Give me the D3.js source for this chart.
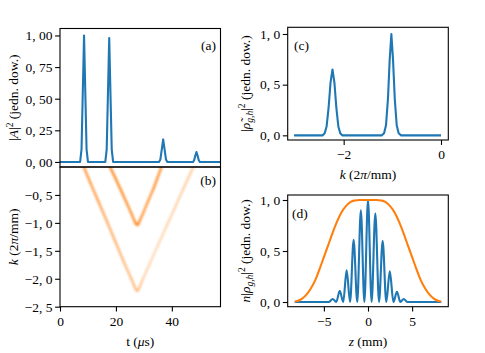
<!DOCTYPE html>
<html><head><meta charset="utf-8">
<script src="https://cdn.jsdelivr.net/npm/d3@7"></script>
<style>
body{margin:0;background:#fff;}
text{font-family:"Liberation Serif","DejaVu Serif",serif;fill:#000;}
</style></head>
<body><svg id="c" width="485" height="353"></svg>
<script>
// ---------- data ----------
// (a) |A|^2 vs t (us)
const aT = [0, 7.2, 7.7, 8.1, 8.6, 9.1, 9.5, 10.0, 16.2, 16.7, 17.1, 17.6, 18.1, 18.5, 19.0,
            35.4, 35.9, 36.4, 36.9, 37.4, 37.9, 38.4, 47.6, 48.0, 48.4, 48.8, 49.2, 49.6, 50.0, 57.4];
const aV = [0, 0, 0.1, 0.5, 1.0, 0.5, 0.1, 0, 0, 0.1, 0.49, 0.98, 0.49, 0.1, 0,
            0, 0.02, 0.1, 0.178, 0.1, 0.02, 0, 0, 0.015, 0.05, 0.078, 0.05, 0.015, 0, 0];
// (b) two bands k(t) with intensity
const upperT = [17.9, 20, 22, 24, 25.5, 26.5, 27.1, 27.6, 28.1, 28.7, 29.7, 31.5, 33.5, 36.3];
const upperK = [0, -0.22, -0.44, -0.66, -0.83, -0.95, -1.01, -1.04, -1.01, -0.94, -0.83, -0.61, -0.38, 0];
const upperI = [0.95, 0.92, 0.9, 0.88, 0.86, 0.88, 0.92, 0.92, 0.9, 0.84, 0.8, 0.8, 0.82, 0.85];
const lowerT = [8.5, 11, 14, 17, 20, 23, 25.5, 26.5, 27.1, 27.6, 28.1, 28.7, 29.7, 32, 35, 38, 41, 44, 47.7];
const lowerK = [0, -0.3, -0.65, -1.0, -1.36, -1.72, -2.0, -2.12, -2.19, -2.22, -2.19, -2.12, -2.0, -1.74, -1.4, -1.07, -0.74, -0.4, 0];
const lowerI = [0.82, 0.78, 0.72, 0.66, 0.6, 0.55, 0.52, 0.52, 0.55, 0.55, 0.52, 0.45, 0.36, 0.3, 0.3, 0.33, 0.36, 0.38, 0.4];
// (c) |rho~|^2 vs k
const cK = [-3.02, -2.43, -2.39, -2.35, -2.31, -2.27, -2.23, -2.19, -2.15, -2.11, -2.07, -2.03,
            -1.22, -1.17, -1.13, -1.09, -1.055, -1.02, -0.985, -0.95, -0.91, -0.87, -0.82, 0];
const cV = [0, 0, 0.02, 0.09, 0.27, 0.52, 0.65, 0.52, 0.27, 0.09, 0.02, 0,
            0, 0.02, 0.1, 0.36, 0.74, 1.0, 0.74, 0.36, 0.1, 0.02, 0, 0];
// (d) blue: n|rho|^2 vs z, orange: n profile
const dZ = [-8.3, -4.45, -4.0, -3.6, -3.2, -2.81, -2.42, -2.03, -1.63, -1.22, -0.81, -0.41, 0,
            0.41, 0.83, 1.25, 1.66, 2.07, 2.47, 2.88, 3.28, 3.67, 4.05, 4.45, 8.3];
const dV = [0, 0, 0.03, 0, 0.11, 0, 0.31, 0, 0.61, 0, 0.9, 0, 1.0,
            0, 0.87, 0, 0.6, 0, 0.3, 0, 0.1, 0, 0.03, 0, 0];
const nZ = [-8.3, -7.7, -7.0, -6.5, -6.0, -5.5, -5.0, -4.5, -4.0, -3.5, -3.0, -2.5, -2.0, -1.5, -1.0, 0,
            1.0, 1.5, 2.0, 2.5, 3.0, 3.5, 4.0, 4.5, 5.0, 5.5, 6.0, 6.5, 7.0, 7.7, 8.3];
const nV = [0.005, 0.02, 0.07, 0.13, 0.21, 0.32, 0.44, 0.56, 0.68, 0.79, 0.88, 0.94, 0.98, 0.995, 1.0, 1.0,
            1.0, 0.995, 0.98, 0.94, 0.88, 0.79, 0.68, 0.56, 0.44, 0.32, 0.21, 0.13, 0.07, 0.02, 0.005];
// ticks
const aYTicks = [0, 0.25, 0.5, 0.75, 1.0];
const bYTicks = [-0.5, -1.0, -1.5, -2.0, -2.5];
const tTicks = [0, 20, 40];
const cYTicks = [0, 0.5, 1.0];
const cXTicks = [-2, 0];
const dYTicks = [0, 0.5, 1.0];
const dXTicks = [-5, 0, 5];

// ---------- drawing ----------
const BLUE = "#1f77b4", ORANGE = "#ff7f0e", FS = 13.5;
const svg = d3.select("#c");
svg.append("rect").attr("width", 485).attr("height", 353).attr("fill", "#fff");
const defs = svg.append("defs");
defs.append("filter").attr("id", "blur").attr("x", "-20%").attr("y", "-20%").attr("width", "140%").attr("height", "140%")
  .append("feGaussianBlur").attr("stdDeviation", 0.9);

const P = {
  a: {x0: 60, x1: 220.5, y0: 28.5, y1: 167},
  b: {x0: 60, x1: 220.5, y0: 167, y1: 306.7},
  c: {x0: 287.7, x1: 448.3, y0: 27.3, y1: 140},
  d: {x0: 287.7, x1: 448.3, y0: 195, y1: 306.7}
};
const xT = d3.scaleLinear([0, 57.4], [P.a.x0, P.a.x1]);
const yA = d3.scaleLinear([-0.04, 1.055], [P.a.y1, P.a.y0]);
const yB = d3.scaleLinear([-2.5, 0], [P.b.y1, P.b.y0]);
const xC = d3.scaleLinear([-3.15, 0.15], [P.c.x0, P.c.x1]);
const yC = d3.scaleLinear([-0.046, 1.066], [P.c.y1, P.c.y0]);
const xD = d3.scaleLinear([-9.1, 9.1], [P.d.x0, P.d.x1]);
const yD = d3.scaleLinear([-0.046, 1.049], [P.d.y1, P.d.y0]);

function clip(id, p) {
  defs.append("clipPath").attr("id", id).append("rect")
    .attr("x", p.x0).attr("y", p.y0).attr("width", p.x1 - p.x0).attr("height", p.y1 - p.y0);
  return svg.append("g").attr("clip-path", `url(#${id})`);
}
function fmt(dec) {
  return d => (d < 0 ? "\u2212" : "") + (dec ? Math.abs(d).toFixed(dec).replace(".", ", ") : Math.abs(d));
}
function yAxis(p, scale, ticks, dec) {
  const g = svg.append("g").attr("transform", `translate(${p.x0},0)`)
    .call(d3.axisLeft(scale).tickValues(ticks).tickSize(4.9).tickPadding(2.6).tickFormat(fmt(dec)));
  style(g);
}
function xAxis(p, scale, ticks) {
  const g = svg.append("g").attr("transform", `translate(0,${p.y1})`)
    .call(d3.axisBottom(scale).tickValues(ticks).tickSize(4.9).tickPadding(5).tickFormat(fmt(0)));
  style(g);
}
function style(g) {
  g.select(".domain").remove();
  g.selectAll(".tick line").attr("stroke", "#000").attr("stroke-width", 1.1);
  g.selectAll(".tick text").attr("font-size", FS).attr("font-family", "Liberation Serif").attr("fill", "#000");
}
function frame(p) {
  svg.append("rect").attr("x", p.x0).attr("y", p.y0).attr("width", p.x1 - p.x0).attr("height", p.y1 - p.y0)
    .attr("fill", "none").attr("stroke", "#000").attr("stroke-width", 1.1);
}
function line(g, xs, ys, xsc, ysc, color) {
  g.append("path").datum(xs.map((x, i) => [x, ys[i]]))
    .attr("d", d3.line().x(d => xsc(d[0])).y(d => ysc(d[1])))
    .attr("fill", "none").attr("stroke", color).attr("stroke-width", 2.1).attr("stroke-linejoin", "round");
}
function smooth(g, xs, ys, xsc, ysc, color) {
  g.append("path").datum(xs.map((x, i) => [x, ys[i]]))
    .attr("d", d3.line().curve(d3.curveMonotoneX).x(d => xsc(d[0])).y(d => ysc(d[1])))
    .attr("fill", "none").attr("stroke", color).attr("stroke-width", 2.1).attr("stroke-linejoin", "round");
}

// panel a
line(clip("ca", P.a), aT, aV, xT, yA, BLUE);
// panel b bands
const gb = clip("cb", P.b).append("g").attr("filter", "url(#blur)");
const mix = d3.interpolateRgb("#ffffff", ORANGE);
function band(ts, ks, is) {
  for (let i = 0; i < ts.length - 1; i++) {
    gb.append("line")
      .attr("x1", xT(ts[i])).attr("y1", yB(ks[i])).attr("x2", xT(ts[i + 1])).attr("y2", yB(ks[i + 1]))
      .attr("stroke", mix((is[i] + is[i + 1]) / 2)).attr("stroke-width", 2.3).attr("stroke-linecap", "round");
  }
}
band(lowerT, lowerK, lowerI);
band(upperT, upperK, upperI);
// panel c
line(clip("cc", P.c), cK, cV, xC, yC, BLUE);
// panel d
const gd = clip("cd", P.d);
smooth(gd, dZ, dV, xD, yD, BLUE);
smooth(gd, nZ, nV, xD, yD, ORANGE);

// axes
yAxis(P.a, yA, aYTicks, 2);
yAxis(P.b, yB, bYTicks, 1);
xAxis(P.b, xT, tTicks);
yAxis(P.c, yC, cYTicks, 1);
xAxis(P.c, xC, cXTicks);
yAxis(P.d, yD, dYTicks, 1);
xAxis(P.d, xD, dXTicks);
[P.a, P.b, P.c, P.d].forEach(frame);

// panel letters
[["(a)", 216, 50, "end"], ["(b)", 216, 185, "end"], ["(c)", 294, 50, "start"], ["(d)", 292, 218, "start"]]
  .forEach(([t, x, y, a]) => svg.append("text").attr("x", x).attr("y", y).attr("text-anchor", a).attr("font-size", FS).text(t));

// axis labels
function label(x, y, rot, parts) {
  const t = svg.append("text").attr("text-anchor", "middle").attr("font-size", FS)
    .attr("transform", `translate(${x},${y})` + (rot ? " rotate(-90)" : ""));
  parts.forEach(p => {
    const s = t.append("tspan").text(p.t);
    if (p.i) s.attr("font-style", "italic");
    if (p.s) s.attr("font-size", p.s);
    if (p.dy) s.attr("dy", p.dy);
  });
}
label(18, 97.75, true, [{t: "|"}, {t: "A", i: 1}, {t: "|"}, {t: "2", s: 9.5, dy: -5}, {t: " (jedn. dow.)", dy: 5}]);
label(18, 236.85, true, [{t: "k", i: 1}, {t: " (2"}, {t: "π", i: 1}, {t: "/mm)"}]);
label(140.25, 346, false, [{t: "t ("}, {t: "μ", i: 1}, {t: "s)"}]);
label(250, 83.6, true, [{t: "|"}, {t: "ρ\u0303", i: 1}, {t: "g,h", i: 1, s: 9.5, dy: 3}, {t: "|", dy: -3}, {t: "2", s: 9.5, dy: -5}, {t: " (jedn. dow.)", dy: 5}]);
label(368, 179, false, [{t: "k", i: 1}, {t: " (2"}, {t: "π", i: 1}, {t: "/mm)"}]);
label(250, 250.85, true, [{t: "n", i: 1}, {t: "|"}, {t: "ρ", i: 1}, {t: "g,h", i: 1, s: 9.5, dy: 3}, {t: "|", dy: -3}, {t: "2", s: 9.5, dy: -5}, {t: " (jedn. dow.)", dy: 5}]);
label(368, 346, false, [{t: "z", i: 1}, {t: " (mm)"}]);
</script></body></html>
